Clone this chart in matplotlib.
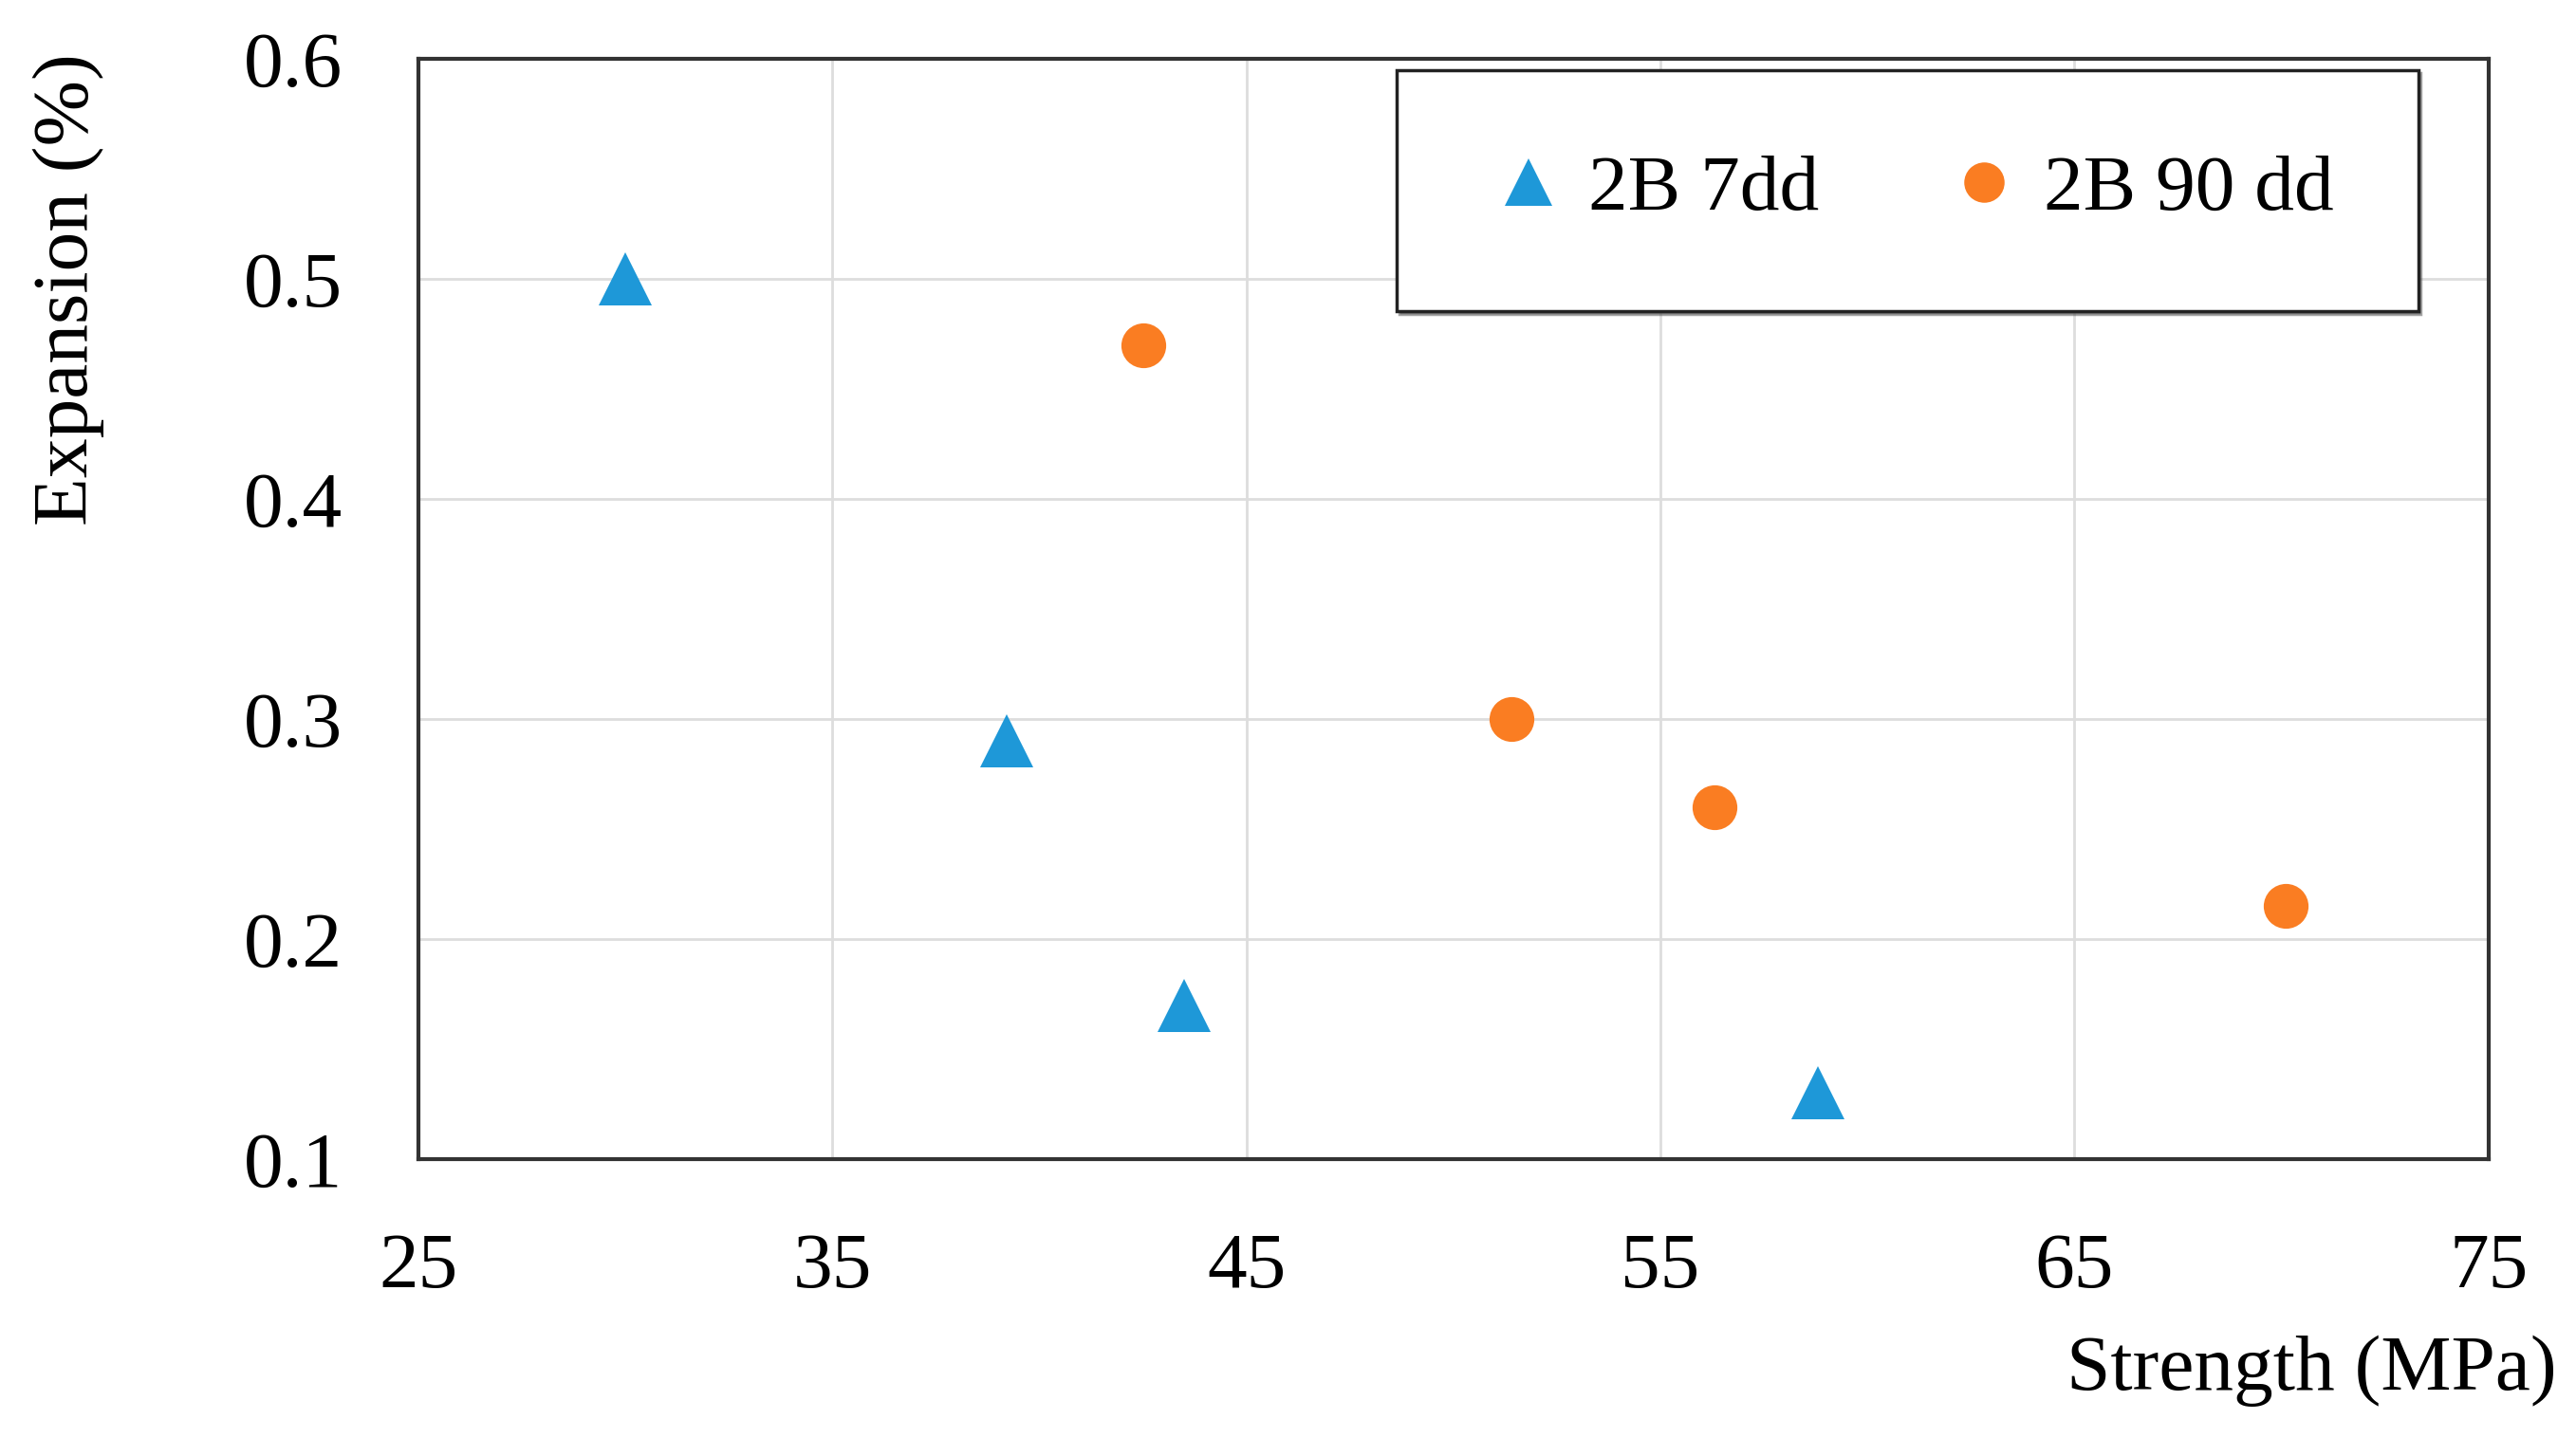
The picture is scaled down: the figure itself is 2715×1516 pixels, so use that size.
import matplotlib
matplotlib.use('Agg')
import matplotlib.pyplot as plt

plt.rcParams['font.family'] = ['Liberation Serif', 'DejaVu Serif']

# 数据
strength_7dd = [30.0, 39.2, 43.5, 58.8]
expansion_7dd = [0.50, 0.29, 0.17, 0.13]
strength_90dd = [42.5, 51.4, 56.3, 70.1]
expansion_90dd = [0.47, 0.30, 0.26, 0.215]
x_ticks = [25, 35, 45, 55, 65, 75]
y_ticks = [0.1, 0.2, 0.3, 0.4, 0.5, 0.6]

fig = plt.figure(figsize=(27.15, 15.16), dpi=100)
ax = fig.add_axes([0.1625, 0.194, 0.8035, 0.765])

ax.plot(strength_7dd, expansion_7dd, '^', color='#1E98D8', markersize=40,
        markeredgewidth=0, label='2B 7dd', zorder=3)
ax.plot(strength_90dd, expansion_90dd, 'o', color='#FA7D22', markersize=34,
        markeredgewidth=0, label='2B 90 dd', zorder=3)

ax.set_xlim(25, 75)
ax.set_ylim(0.1, 0.6)
ax.set_xticks(x_ticks)
ax.set_yticks(y_ticks)
ax.set_yticklabels(['%.1f' % v for v in y_ticks])
ax.grid(True, color='#dddddd', linewidth=2)
ax.set_axisbelow(True)
ax.tick_params(length=0, labelsize=60)
ax.tick_params(axis='y', pad=58)
ax.tick_params(axis='x', pad=56)
for s in ax.spines.values():
    s.set_linewidth(3)
    s.set_color('#333333')

ax.set_ylabel('Expansion (%)', fontsize=60)
ax.yaxis.set_label_coords(-0.169, 1.005)
ax.yaxis.label.set_verticalalignment('center')
ax.yaxis.label.set_horizontalalignment('right')
ax.set_xlabel('Strength (MPa)', fontsize=60)
ax.xaxis.set_label_coords(1.033, -0.16)
ax.xaxis.label.set_horizontalalignment('right')

leg = ax.legend(loc='upper left', bbox_to_anchor=(0.4725, 0.772, 0.4935, 0.218),
                mode='expand', ncol=2, fontsize=60, frameon=True, fancybox=False,
                shadow=True, borderaxespad=0, handlelength=1.2, handletextpad=0.15,
                columnspacing=1.0, borderpad=1.07, markerscale=0.9)
leg.get_frame().set_edgecolor('#222222')
leg.get_frame().set_linewidth(2.5)

fig.savefig('out.png', dpi=100)
